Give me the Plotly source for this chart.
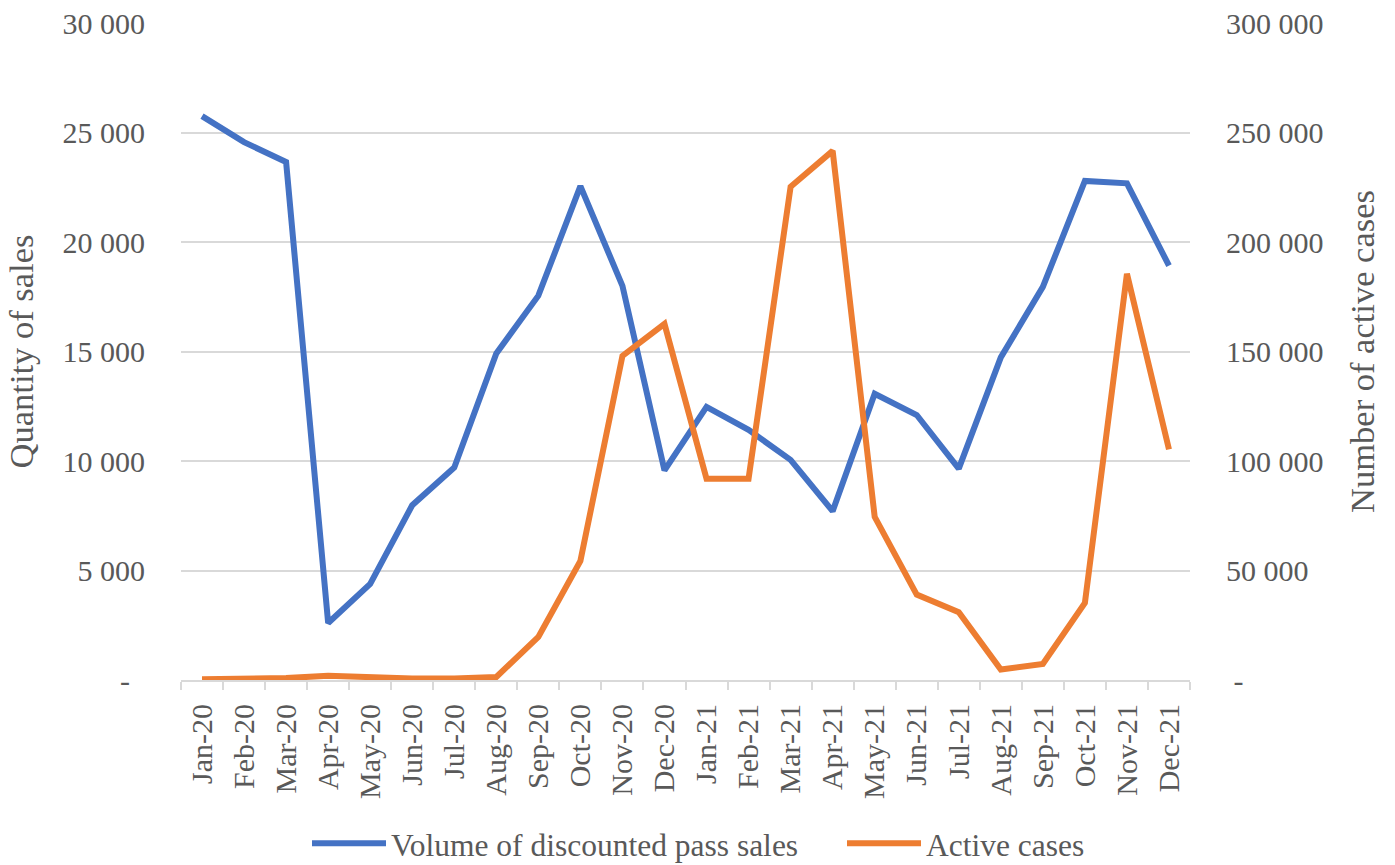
import plotly.graph_objects as go

# Monthly categories
months = ["Jan-20", "Feb-20", "Mar-20", "Apr-20", "May-20", "Jun-20", "Jul-20", "Aug-20",
          "Sep-20", "Oct-20", "Nov-20", "Dec-20", "Jan-21", "Feb-21", "Mar-21", "Apr-21",
          "May-21", "Jun-21", "Jul-21", "Aug-21", "Sep-21", "Oct-21", "Nov-21", "Dec-21"]

# Volume of discounted pass sales (left axis)
pass_sales = [25750, 24560, 23650, 2600, 4390, 7980, 9700, 14910,
              17550, 22550, 18000, 9570, 12470, 11420, 10050, 7710,
              13070, 12100, 9650, 14730, 17950, 22790, 22680, 18920]

# Active cases (right axis)
active_cases = [300, 500, 900, 1900, 1100, 700, 700, 1400,
                19700, 54400, 148000, 162600, 91900, 91900, 225200, 241600,
                74500, 39000, 31000, 4800, 7300, 35200, 185500, 105300]

left_ticks = [0, 5000, 10000, 15000, 20000, 25000, 30000]
left_labels = ["-\u00a0\u00a0", "5 000", "10 000", "15 000", "20 000", "25 000", "30 000"]
right_ticks = [0, 50000, 100000, 150000, 200000, 250000, 300000]
right_labels = ["\u00a0-", "50 000", "100 000", "150 000", "200 000", "250 000", "300 000"]

FONT = "Liberation Serif, Times New Roman, serif"
TXT = "#595959"
GRID = "#d9d9d9"

fig = go.Figure()
fig.add_trace(go.Scatter(
    x=months, y=pass_sales, mode="lines", name="Volume of discounted pass sales",
    line=dict(color="#4472C4", width=6), yaxis="y", legend="legend"))
fig.add_trace(go.Scatter(
    x=months, y=active_cases, mode="lines", name="Active cases",
    line=dict(color="#ED7D31", width=6), yaxis="y2", legend="legend2"))

legend_common = dict(orientation="h", xanchor="left", xref="container",
                     y=0.025, yanchor="middle", yref="container",
                     font=dict(family=FONT, size=31.5, color=TXT),
                     itemwidth=74, bgcolor="rgba(0,0,0,0)")

fig.update_layout(
    width=1395, height=865,
    margin=dict(l=181, r=205, t=23, b=185, autoexpand=False),
    paper_bgcolor="white", plot_bgcolor="white",
    font=dict(family=FONT, size=30, color=TXT),
    showlegend=True,
    legend=dict(x=307 / 1395, **legend_common),
    legend2=dict(x=842 / 1395, **legend_common),
    xaxis=dict(type="category", range=[-0.5, 23.5], tickangle=-90,
               showline=True, linecolor=GRID, linewidth=2,
               ticks="outside", tickson="boundaries", ticklen=8, tickcolor=GRID, tickwidth=2,
               ticklabelstandoff=10,
               showgrid=False, tickfont=dict(family=FONT, size=30, color=TXT)),
    yaxis=dict(range=[0, 30000], tickvals=left_ticks, ticktext=left_labels,
               showgrid=True, gridcolor=GRID, gridwidth=2, zeroline=False,
               showline=False, ticks="", ticklabelstandoff=35,
               tickfont=dict(family=FONT, size=30, color=TXT),
               title=dict(text="Quantity of sales", standoff=18,
                          font=dict(family=FONT, size=34.5, color=TXT))),
    yaxis2=dict(range=[0, 300000], tickvals=right_ticks, ticktext=right_labels,
                overlaying="y", side="right", showgrid=False, zeroline=False,
                showline=False, ticks="", ticklabelstandoff=35,
                tickfont=dict(family=FONT, size=30, color=TXT),
                title=dict(text="Number of active cases", standoff=27,
                           font=dict(family=FONT, size=34.5, color=TXT))),
)

fig.write_html("out.html")
